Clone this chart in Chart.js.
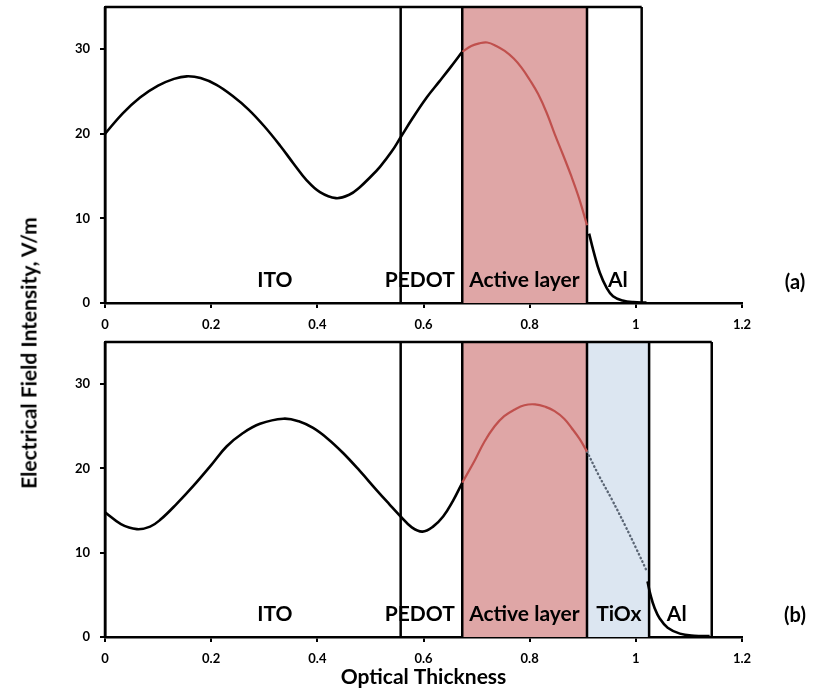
<!DOCTYPE html>
<html>
<head>
<meta charset="utf-8">
<script src="https://cdn.jsdelivr.net/npm/chart.js@4.4.1/dist/chart.umd.min.js"></script>
<style>
    body { margin: 0; background: #fff; }
    #wrap { position: relative; width: 821px; height: 690px; font-family: Lato, sans-serif; }
    .cv { position: absolute; left: 0; }
    #ytitle {
        position: absolute; left: 28px; top: 353px; white-space: nowrap;
        transform: translate(-50%, -50%) rotate(-90deg);
        font-weight: bold; font-size: 21px; color: #000;
    }
    .tag { position: absolute; transform: translate(-50%, -50%); font-size: 20px; font-weight: bold; color: #000; }
</style>
</head>
<body>
<div id="wrap">
    <canvas id="chartA" class="cv" style="top:0" width="821" height="336"></canvas>
    <canvas id="chartB" class="cv" style="top:336px" width="821" height="354"></canvas>
    <div id="ytitle">Electrical Field Intensity, V/m</div>
    <div class="tag" style="left:795px;top:281px">(a)</div>
    <div class="tag" style="left:795px;top:614px">(b)</div>
</div>
<script>
/************************DATA */
// (a) device: ITO / PEDOT / active / Al
let xA_ito = [0, 0.033, 0.066, 0.1, 0.13, 0.154, 0.18, 0.21, 0.24, 0.27, 0.3, 0.33, 0.355, 0.38, 0.405, 0.435, 0.46, 0.48, 0.5, 0.518, 0.54, 0.557, 0.58, 0.606, 0.63, 0.65, 0.673];
let yA_ito = [20.0, 22.4, 24.3, 25.7, 26.5, 26.8, 26.6, 25.8, 24.5, 22.9, 20.9, 18.6, 16.5, 14.5, 13.1, 12.4, 12.8, 13.7, 14.9, 16.1, 17.9, 19.6, 21.9, 24.3, 26.2, 27.8, 29.7];
let xA_act = [0.673, 0.69, 0.705, 0.72, 0.737, 0.753, 0.77, 0.785, 0.8, 0.816, 0.832, 0.847, 0.863, 0.879, 0.894, 0.908];
let yA_act = [29.7, 30.4, 30.7, 30.8, 30.4, 29.8, 28.9, 27.8, 26.4, 24.7, 22.5, 20.0, 17.5, 14.9, 12.2, 9.2];
let xA_al = [0.912, 0.92, 0.932, 0.945, 0.957, 0.975, 0.995, 1.02];
let yA_al = [8.2, 6.2, 3.6, 1.8, 0.8, 0.3, 0.1, 0.05];
let layersA = ['ITO', 'PEDOT', 'Active layer', 'Al'];
let boundsA = [0, 0.557, 0.673, 0.908, 1.011];

// (b) device: ITO / PEDOT / active / TiOx / Al
let xB_ito = [0, 0.03, 0.06, 0.085, 0.104, 0.135, 0.166, 0.2, 0.229, 0.26, 0.292, 0.336, 0.365, 0.392, 0.42, 0.449, 0.48, 0.512, 0.535, 0.557, 0.578, 0.598, 0.618, 0.637, 0.655, 0.673];
let yB_ito = [14.8, 13.4, 12.8, 13.1, 13.9, 15.8, 17.9, 20.4, 22.6, 24.2, 25.3, 25.9, 25.6, 24.8, 23.5, 21.8, 19.7, 17.4, 15.8, 14.3, 13.0, 12.5, 13.1, 14.3, 16.1, 18.3];
let xB_act = [0.673, 0.697, 0.715, 0.734, 0.752, 0.772, 0.79, 0.81, 0.83, 0.847, 0.865, 0.879, 0.894, 0.908];
let yB_act = [18.3, 21.0, 23.2, 25.0, 26.2, 27.0, 27.5, 27.6, 27.3, 26.8, 25.9, 24.8, 23.5, 22.0];
let xB_tiox = [0.908, 0.93, 0.955, 0.98, 1.0, 1.02];
let yB_tiox = [22.0, 19.2, 16.3, 13.2, 10.6, 7.9];
let xB_al = [1.022, 1.028, 1.035, 1.045, 1.06, 1.083, 1.11, 1.139];
let yB_al = [6.6, 4.9, 3.5, 2.2, 1.1, 0.4, 0.15, 0.1];
let layersB = ['ITO', 'PEDOT', 'Active layer', 'TiOx', 'Al'];
let boundsB = [0, 0.557, 0.673, 0.908, 1.025, 1.143];

let yMax = 35;
let xTicks = [0, 0.2, 0.4, 0.6, 0.8, 1, 1.2];
let yTicks = [0, 10, 20, 30];

/************************HELPERS */
Chart.defaults.font.family = 'Lato, sans-serif';
Chart.defaults.color = '#000';

const pts = (xs, ys) => xs.map((v, i) => ({ x: v, y: ys[i] }));

const line = (xs, ys, color, width, dash) => ({
    data: pts(xs, ys),
    showLine: true,
    borderColor: color,
    borderWidth: width,
    borderDash: dash || [],
    borderCapStyle: dash ? 'round' : 'butt',
    pointRadius: 0,
    tension: 0.4
});

// layer boxes + layer names, placed with the chart scales
const layerPlugin = (bounds, names, fills, labelX) => ({
    id: 'layers',
    beforeDatasetsDraw(chart) {
        const { ctx, scales: { x, y } } = chart;
        const top = y.getPixelForValue(yMax), bot = y.getPixelForValue(0);
        ctx.save();
        for (let i = 0; i < bounds.length - 1; i++) {
            if (!fills[i]) continue;
            const x0 = x.getPixelForValue(bounds[i]), x1 = x.getPixelForValue(bounds[i + 1]);
            ctx.fillStyle = fills[i];
            ctx.fillRect(x0, top, x1 - x0, bot - top);
        }
        ctx.strokeStyle = '#000';
        ctx.lineWidth = 2.5;
        ctx.beginPath();
        ctx.moveTo(x.getPixelForValue(bounds[0]), top);
        ctx.lineTo(x.getPixelForValue(bounds[bounds.length - 1]), top);
        bounds.forEach(b => {
            const px = x.getPixelForValue(b);
            ctx.moveTo(px, top);
            ctx.lineTo(px, bot);
        });
        ctx.stroke();
        ctx.restore();
    },
    afterDatasetsDraw(chart) {
        const { ctx, scales: { x, y } } = chart;
        ctx.save();
        ctx.font = 'bold 21px Lato, sans-serif';
        ctx.fillStyle = '#000';
        ctx.textAlign = 'center';
        ctx.textBaseline = 'middle';
        names.forEach((n, i) => {
            ctx.fillText(n, x.getPixelForValue(labelX[i]), y.getPixelForValue(2.7));
        });
        ctx.restore();
    }
});

const makeChart = (id, datasets, plugin, axisH, padTop, xTitle) => {
    new Chart(document.getElementById(id).getContext('2d'), {
        type: 'scatter',
        data: { datasets: datasets },
        plugins: [plugin],
        options: {
            responsive: false,
            animation: false,
            layout: { padding: { left: 0, right: 79, top: padTop, bottom: 0 } },
            plugins: { legend: { display: false }, tooltip: { enabled: false } },
            scales: {
                x: {
                    type: 'linear', min: 0, max: 1.2,
                    afterFit: (s) => { s.height = axisH; },
                    afterBuildTicks: (s) => { s.ticks = xTicks.map(v => ({ value: v })); },
                    grid: { drawOnChartArea: false, drawTicks: true, tickLength: 5, color: '#000', lineWidth: 2 },
                    border: { display: true, color: '#000', width: 2.5 },
                    ticks: { padding: 9, maxRotation: 0, font: { size: 13, weight: 'bold' },
                        callback: (v) => String(Number(v.toFixed(1))) },
                    title: { display: !!xTitle, text: xTitle || '', padding: 0, font: { size: 21, weight: 'bold' } }
                },
                y: {
                    type: 'linear', min: 0, max: yMax,
                    afterFit: (s) => { s.width = 105; s.paddingTop = 0; s.paddingBottom = 0; },
                    afterBuildTicks: (s) => { s.ticks = yTicks.map(v => ({ value: v })); },
                    grid: { drawOnChartArea: false, drawTicks: true, tickLength: 5, color: '#000', lineWidth: 2 },
                    border: { display: true, color: '#000', width: 2.5 },
                    ticks: { padding: 10, font: { size: 13, weight: 'bold' } }
                }
            }
        }
    });
};

/************************CHARTS */
const RED = 'rgb(192, 80, 77)';
const ACT_FILL = 'rgb(223, 166, 166)';
const TIOX_FILL = 'rgb(220, 230, 241)';

makeChart('chartA', [
    line(xA_ito, yA_ito, '#000', 2.6),
    line(xA_act, yA_act, RED, 2.2),
    line(xA_al, yA_al, '#000', 2.6)
], layerPlugin(boundsA, layersA, [null, null, ACT_FILL, null], [0.32, 0.593, 0.79, 0.966]), 33, 7);

makeChart('chartB', [
    line(xB_ito, yB_ito, '#000', 2.6),
    line(xB_act, yB_act, RED, 2.2),
    line(xB_tiox, yB_tiox, '#5b6675', 2.4, [0.5, 3.6]),
    line(xB_al, yB_al, '#000', 2.6)
], layerPlugin(boundsB, layersB, [null, null, ACT_FILL, TIOX_FILL, null], [0.32, 0.593, 0.79, 0.968, 1.077]), 53, 6, 'Optical Thickness');
</script>
</body>
</html>
